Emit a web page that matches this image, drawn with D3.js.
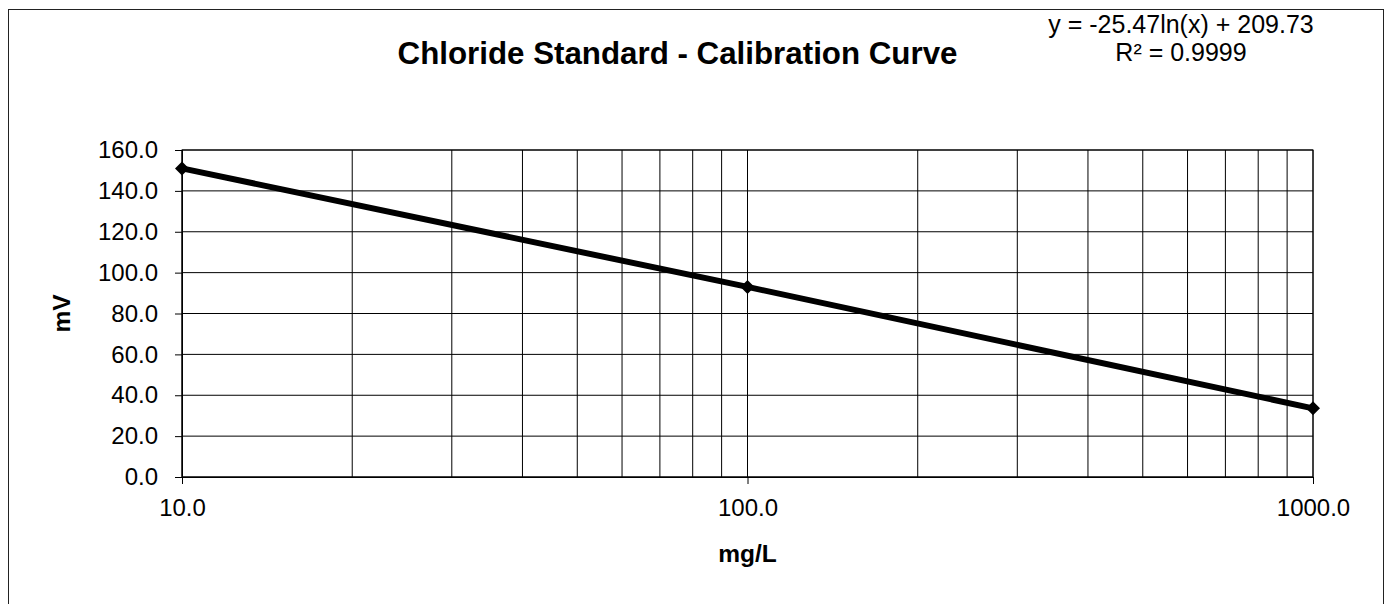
<!DOCTYPE html>
<html>
<head>
<meta charset="utf-8">
<script src="https://cdn.jsdelivr.net/npm/d3@7"></script>
<style>
  html, body { margin: 0; padding: 0; background: #fff; }
  svg { display: block; font-family: "Liberation Sans", Arial, sans-serif; }
</style>
</head>
<body>
<svg id="chart" width="1389" height="604"></svg>
<script>
// ---- data ----
const concentrations = [10, 100, 1000];          // mg/L
const millivolts = [151.0, 93.0, 33.6];          // mV
const xMajorTicks = [10, 100, 1000];
const xMajorLabels = ["10.0", "100.0", "1000.0"];
const xMinorTicks = [20, 30, 40, 50, 60, 70, 80, 90, 200, 300, 400, 500, 600, 700, 800, 900];
const yTicks = [0, 20, 40, 60, 80, 100, 120, 140, 160];
const yTickLabels = ["0.0", "20.0", "40.0", "60.0", "80.0", "100.0", "120.0", "140.0", "160.0"];
const titleText = "Chloride Standard - Calibration Curve";
const xTitle = "mg/L";
const yTitle = "mV";
const equationLines = ["y = -25.47ln(x) + 209.73", "R\u00B2 = 0.9999"];

// ---- layout ----
const svg = d3.select("#chart");
const plot = { left: 182, right: 1313, top: 150, bottom: 477 };

const x = d3.scaleLog().domain([10, 1000]).range([plot.left, plot.right]);
const y = d3.scaleLinear().domain([0, 160]).range([plot.bottom, plot.top]);

// outer chart border
svg.append("rect")
  .attr("x", 8.5).attr("y", 9.5)
  .attr("width", 1375).attr("height", 700)
  .attr("fill", "none").attr("stroke", "#222").attr("stroke-width", 1);

// horizontal gridlines
svg.append("g").selectAll("line").data(yTicks).join("line")
  .attr("x1", plot.left).attr("x2", plot.right)
  .attr("y1", d => y(d)).attr("y2", d => y(d))
  .attr("stroke", "#000").attr("stroke-width", 1);

// vertical gridlines (minor + major)
svg.append("g").selectAll("line").data(xMinorTicks.concat(xMajorTicks)).join("line")
  .attr("x1", d => x(d)).attr("x2", d => x(d))
  .attr("y1", plot.top).attr("y2", plot.bottom)
  .attr("stroke", "#000").attr("stroke-width", 1);

// plot border
svg.append("rect")
  .attr("x", plot.left).attr("y", plot.top)
  .attr("width", plot.right - plot.left).attr("height", plot.bottom - plot.top)
  .attr("fill", "none").attr("stroke", "#000").attr("stroke-width", 1);

// y axis
const yAxis = d3.axisLeft(y)
  .tickValues(yTicks)
  .tickFormat((d, i) => yTickLabels[i])
  .tickSize(7).tickPadding(17);
const gy = svg.append("g").attr("transform", `translate(${plot.left},0)`).call(yAxis);
gy.select(".domain").attr("stroke", "#000");
gy.selectAll(".tick line").attr("stroke", "#000");
gy.selectAll("text").attr("font-size", 24).attr("fill", "#000")
  .attr("font-family", "Liberation Sans, Arial, sans-serif");

// x axis
const xAxis = d3.axisBottom(x)
  .tickValues(xMajorTicks)
  .tickFormat((d, i) => xMajorLabels[i])
  .tickSize(7).tickPadding(15);
const gx = svg.append("g").attr("transform", `translate(0,${plot.bottom})`).call(xAxis);
gx.select(".domain").attr("stroke", "#000");
gx.selectAll(".tick line").attr("stroke", "#000");
gx.selectAll("text").attr("font-size", 24).attr("fill", "#000")
  .attr("font-family", "Liberation Sans, Arial, sans-serif");

// series line
const pts = concentrations.map((c, i) => ({ c, v: millivolts[i] }));
svg.append("path")
  .datum(pts)
  .attr("fill", "none").attr("stroke", "#000").attr("stroke-width", 6)
  .attr("d", d3.line().x(d => x(d.c)).y(d => y(d.v)));

// diamond markers
svg.append("g").selectAll("path").data(pts).join("path")
  .attr("transform", d => `translate(${x(d.c)},${y(d.v)})`)
  .attr("d", "M0,-7L7,0L0,7L-7,0Z")
  .attr("fill", "#000");

// title
svg.append("text")
  .attr("x", 677.5).attr("y", 64)
  .attr("text-anchor", "middle")
  .attr("font-size", 31.3).attr("font-weight", "bold")
  .text(titleText);

// axis titles
svg.append("text")
  .attr("x", (plot.left + plot.right) / 2).attr("y", 562)
  .attr("text-anchor", "middle")
  .attr("font-size", 24.5).attr("font-weight", "bold")
  .text(xTitle);

svg.append("text")
  .attr("transform", `translate(70,${(plot.top + plot.bottom) / 2}) rotate(-90)`)
  .attr("text-anchor", "middle")
  .attr("font-size", 24.5).attr("font-weight", "bold")
  .text(yTitle);

// trendline equation
svg.append("g").selectAll("text").data(equationLines).join("text")
  .attr("x", 1181).attr("y", (d, i) => 33 + i * 28)
  .attr("text-anchor", "middle")
  .attr("font-size", 25)
  .text(d => d);
</script>
</body>
</html>
